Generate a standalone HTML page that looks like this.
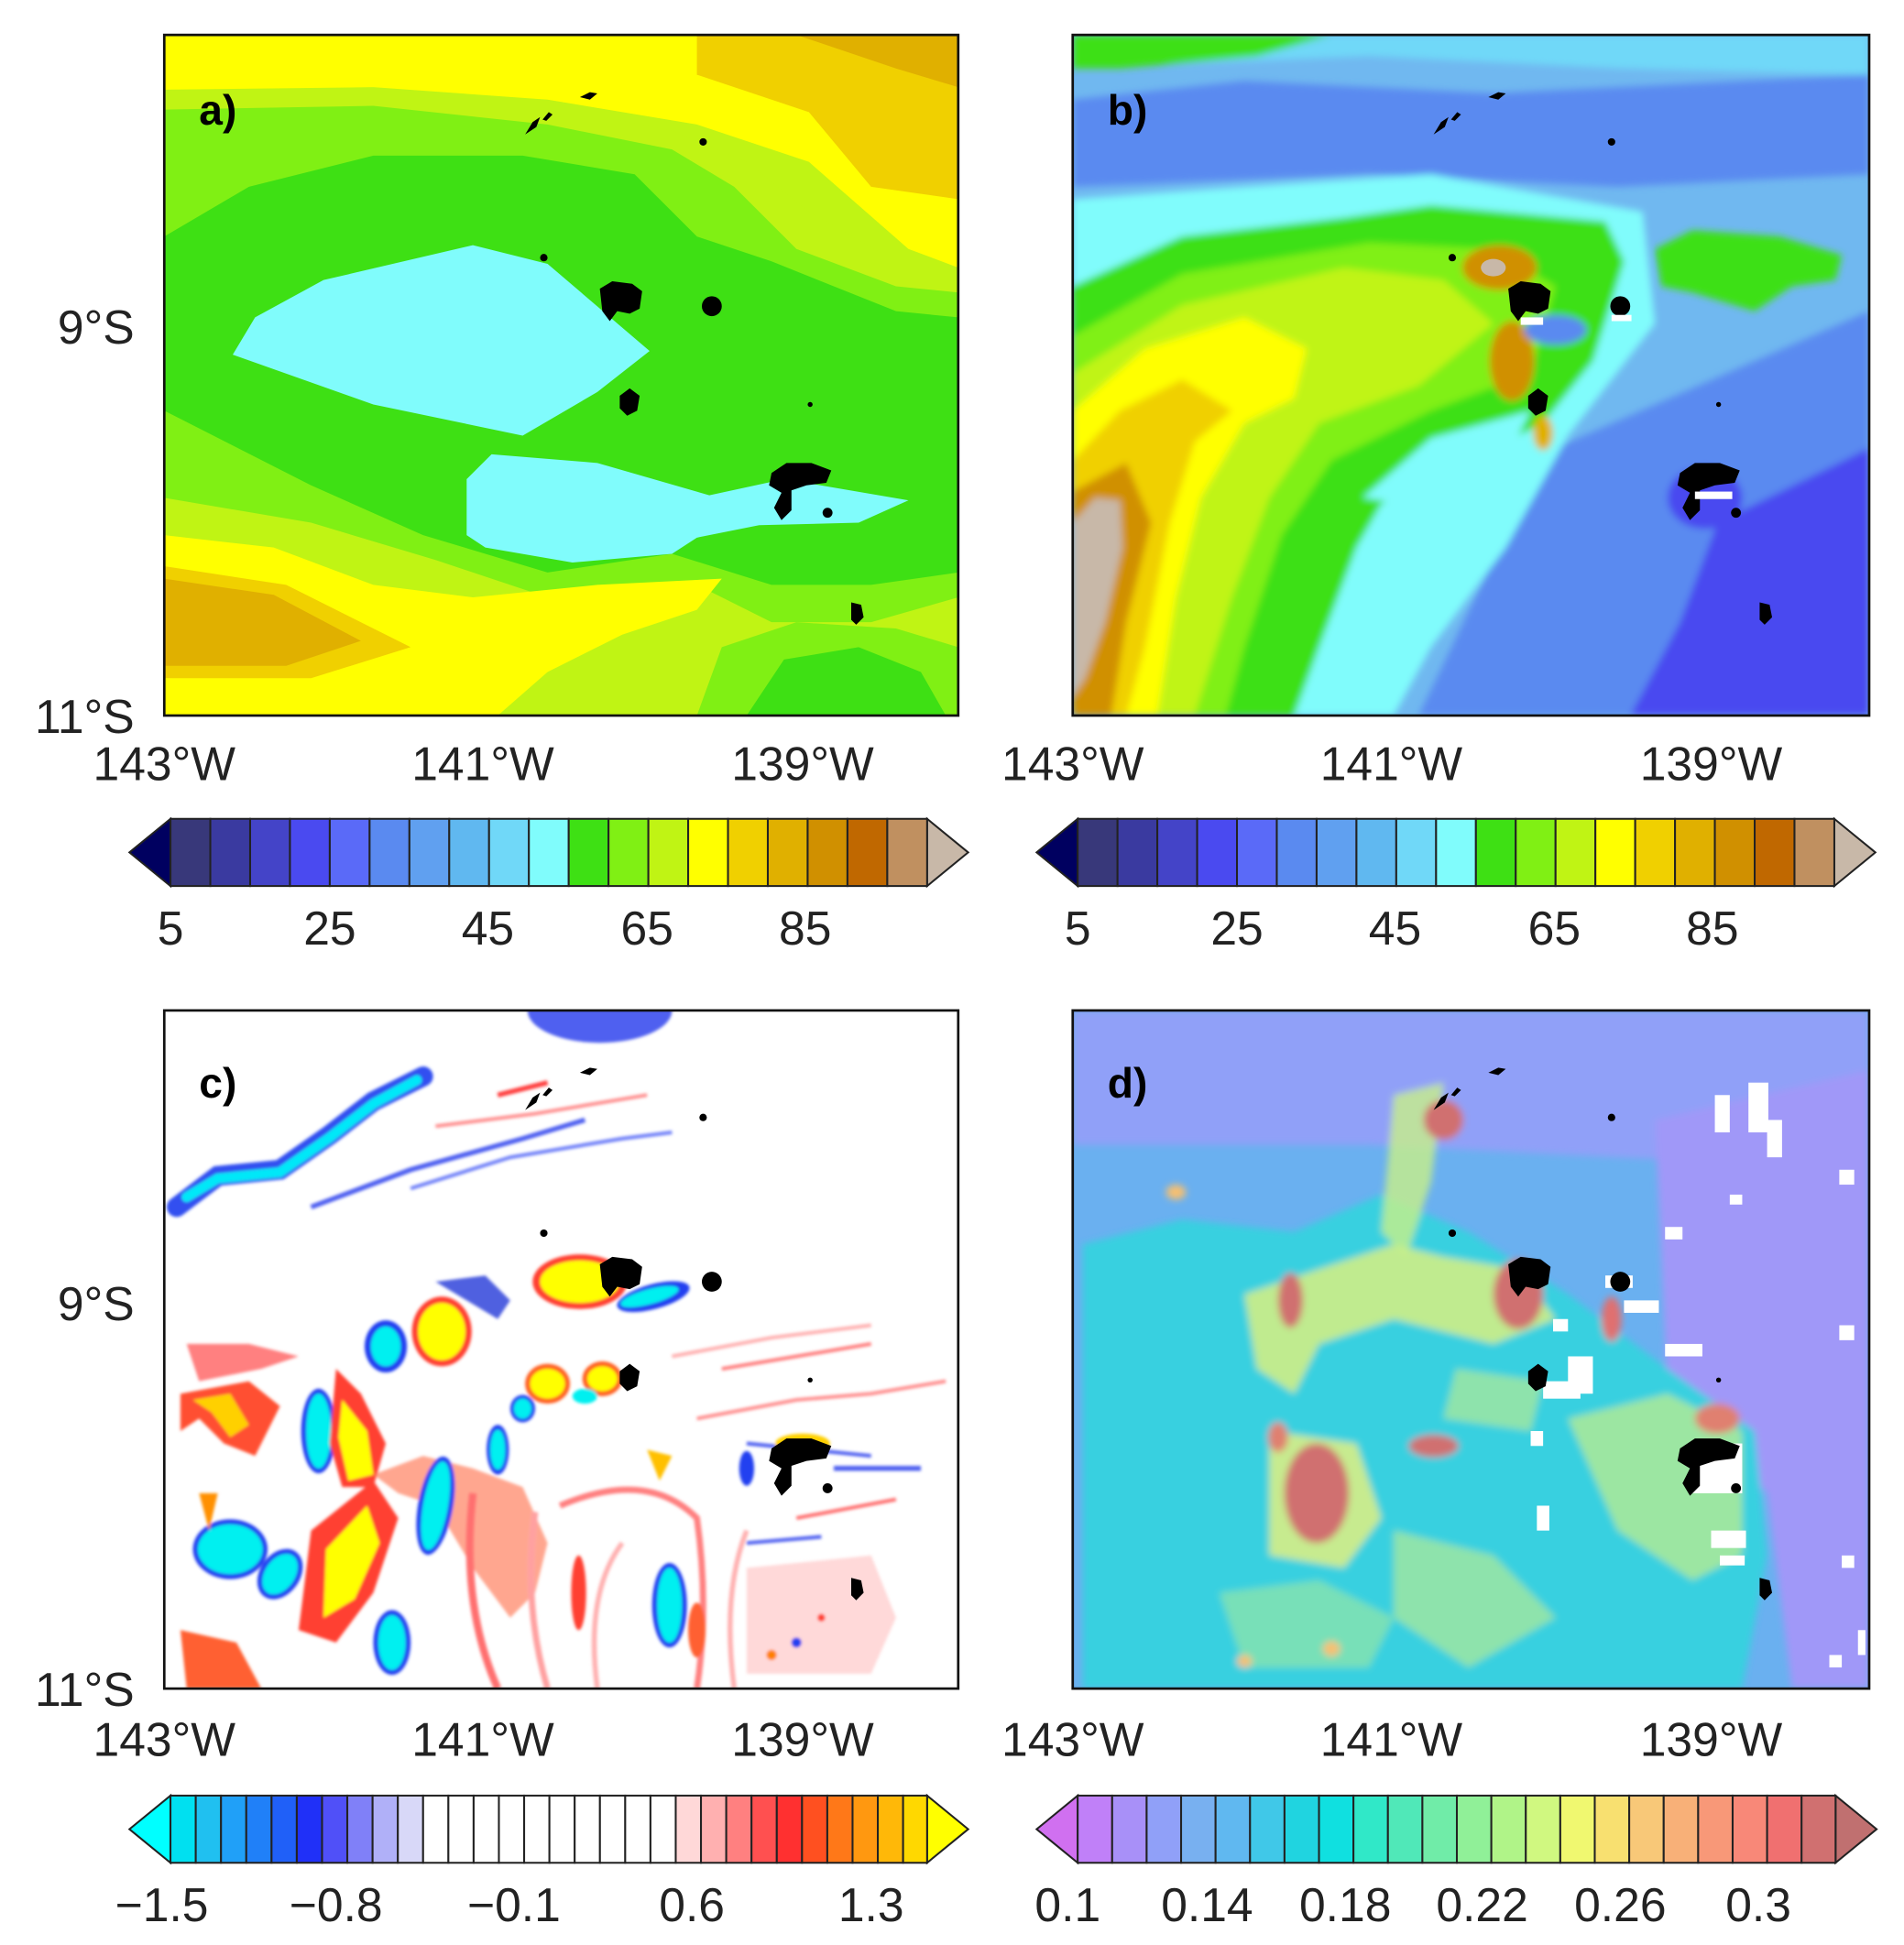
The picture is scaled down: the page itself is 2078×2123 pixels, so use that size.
<!DOCTYPE html>
<html><head><meta charset="utf-8"><style>
html,body{margin:0;padding:0;background:#fff;}
svg{display:block;}
text{font-family:"Liberation Sans",sans-serif;fill:#222;}
</style></head><body>
<svg width="2078" height="2123" viewBox="0 0 1530 1563" xmlns="http://www.w3.org/2000/svg">
<defs>
<filter id="bl" x="-5%" y="-5%" width="110%" height="110%"><feGaussianBlur stdDeviation="3"/></filter>
<filter id="bl2"><feGaussianBlur stdDeviation="1.2"/></filter>
<clipPath id="ca"><rect x="132" y="28" width="638" height="547"/></clipPath>
<clipPath id="cb"><rect x="862" y="28" width="640" height="547"/></clipPath>
<clipPath id="cc"><rect x="132" y="812" width="638" height="545"/></clipPath>
<clipPath id="cd"><rect x="862" y="812" width="640" height="545"/></clipPath>
<g id="isl" fill="#000">
<path d="M422,108 l6,-10 l6,-4 l-3,8 z"/><path d="M436,96 l5,-6 l3,2 l-5,5 z"/><path d="M466,78 l8,-4 l6,1 l-6,5 z"/>
<circle cx="565" cy="114" r="3"/><circle cx="437" cy="207" r="3"/>
<path d="M482,232 l10,-6 l16,2 l8,6 l-2,14 l-8,4 l-10,-2 l-6,8 l-6,-8 z"/>
<circle cx="572" cy="246" r="8"/>
<path d="M498,318 l8,-6 l8,6 l-2,12 l-8,4 l-6,-6 z"/>
<circle cx="651" cy="325" r="2"/>
<path d="M620,380 l12,-8 l20,0 l16,6 l-4,10 l-16,2 l-12,4 l0,16 l-8,8 l-6,-10 l6,-12 l-10,-6 z"/>
<circle cx="665" cy="412" r="4"/>
<path d="M684,484 l8,2 l2,10 l-6,6 l-4,-4 z"/>
</g>
</defs>

<!-- ================= PANEL A ================= -->
<g clip-path="url(#ca)">
<rect x="132" y="28" width="638" height="547" fill="#c0f414"/>
<path d="M132,28 H770 V215 L730,200 L650,130 L560,100 L440,80 L300,70 L132,72 Z" fill="#ffff00"/>
<path d="M560,28 H770 V160 L700,150 L650,90 L560,60 Z" fill="#f0d000"/>
<path d="M640,28 H770 V70 L720,55 Z" fill="#e0b000"/>
<path d="M132,75 L300,72 L440,85 L540,105 L600,130 L650,170 L720,210 L770,220 V575 H132 Z" fill="#c0f414"/>
<path d="M132,88 L300,85 L440,100 L540,120 L590,150 L640,200 L720,230 L770,235 V480 L700,500 L620,500 L560,470 L440,480 L350,450 L250,420 L132,400 Z" fill="#80f014"/>
<path d="M132,190 L200,150 L300,125 L420,125 L510,140 L560,190 L620,210 L720,250 L770,255 V460 L700,470 L620,470 L540,445 L440,460 L340,430 L250,390 L132,330 Z" fill="#3ee014"/>
<path d="M187,285 L205,255 L260,225 L380,197 L440,212 L522,282 L480,315 L420,350 L300,325 Z" fill="#80fcfc"/>
<path d="M375,385 L395,365 L480,372 L570,398 L630,385 L730,402 L690,420 L610,422 L560,432 L540,445 L460,452 L390,440 L375,430 Z" fill="#80fcfc"/>
<path d="M132,430 L220,440 L300,470 L380,480 L480,470 L580,465 L560,490 L500,510 L440,540 L400,575 H132 Z" fill="#ffff00"/>
<path d="M132,455 L230,470 L330,520 L250,545 L132,545 Z" fill="#f0d000"/>
<path d="M132,465 L220,478 L290,515 L230,535 L132,535 Z" fill="#e0b000"/>
<path d="M132,545 L250,548 L330,520 L400,575 H132 Z" fill="#ffff00"/>
<path d="M560,575 L580,520 L640,500 L720,505 L770,520 V575 Z" fill="#80f014"/>
<path d="M600,575 L630,530 L690,520 L740,540 L760,575 Z" fill="#3ee014"/>
<use href="#isl"/>
</g>
<rect x="132" y="28" width="638" height="547" fill="none" stroke="#111" stroke-width="2"/>
<text x="160" y="100" font-size="34" font-weight="bold" style="fill:#000">a)</text>

<!-- ================= PANEL B ================= -->
<g clip-path="url(#cb)">
<rect x="862" y="28" width="640" height="547" fill="#70b8f0"/>
<g filter="url(#bl)">
<path d="M862,28 H1502 V60 L1300,55 L1100,45 L862,55 Z" fill="#70d8f8"/>
<path d="M862,28 H1070 L1010,45 L900,55 L862,55 Z" fill="#3ee014"/>
<path d="M862,80 L1000,65 L1200,75 L1502,60 V140 L1300,150 L1100,140 L862,150 Z" fill="#5a8af0"/>
<path d="M1250,360 L1502,250 V575 H1140 L1200,450 Z" fill="#5a8af0"/>
<path d="M1380,420 L1502,360 V575 H1310 L1350,500 Z" fill="#4a4af0"/>
<path d="M862,160 L1000,150 L1150,140 L1320,170 L1330,260 L1260,350 L1210,440 L1150,520 L1120,575 H862 Z" fill="#80fcfc"/>
<path d="M862,230 L950,190 L1080,175 L1150,165 L1290,178 L1305,210 L1280,290 L1240,340 L1180,370 L1110,405 L1090,440 L1060,520 L1040,575 H862 Z" fill="#3ee014"/>
<path d="M1095,400 L1150,352 L1230,330 L1205,380 L1130,405 Z" fill="#80fcfc"/>
<path d="M862,270 L950,220 L1100,195 L1200,200 L1250,230 L1230,300 L1150,330 L1070,370 L1030,430 L1000,520 L985,575 H862 Z" fill="#80f014"/>
<path d="M862,300 L950,245 L1080,215 L1160,225 L1200,260 L1140,310 L1060,340 L1020,400 L990,480 L960,575 H862 Z" fill="#c0f414"/>
<path d="M862,330 L920,280 L1000,255 L1050,280 L1040,320 L1000,340 L965,400 L945,480 L930,575 H862 Z" fill="#ffff00"/>
<path d="M862,370 L900,330 L950,305 L990,330 L960,355 L940,420 L920,520 L905,575 H862 Z" fill="#f0d000"/>
<path d="M862,395 L905,372 L925,420 L905,500 L893,575 H862 Z" fill="#d09000"/>
<path d="M862,420 L880,400 L900,402 L902,440 L888,500 L872,545 L862,560 Z" fill="#c8b8a8"/>
<path d="M1330,200 L1360,185 L1430,190 L1480,205 L1475,225 L1440,230 L1410,250 L1360,235 L1335,230 Z" fill="#3ee014"/>
<ellipse cx="1205" cy="215" rx="30" ry="18" fill="#d09000"/>
<ellipse cx="1215" cy="290" rx="18" ry="32" fill="#d09000"/>
<ellipse cx="1240" cy="348" rx="8" ry="14" fill="#e0b000"/>
<ellipse cx="1250" cy="265" rx="25" ry="12" fill="#5a8af0"/>
<ellipse cx="1370" cy="400" rx="30" ry="25" fill="#4a4af0"/>
</g>
<ellipse cx="1200" cy="215" rx="10" ry="7" fill="#c8b8a8"/>
<use href="#isl" transform="translate(730,0)"/>
<rect x="1222" y="255" width="18" height="6" fill="#fff"/>
<rect x="1295" y="253" width="16" height="5" fill="#fff"/>
<rect x="1362" y="395" width="30" height="6" fill="#fff"/>
</g>
<rect x="862" y="28" width="640" height="547" fill="none" stroke="#111" stroke-width="2"/>
<text x="890" y="100" font-size="34" font-weight="bold" style="fill:#000">b)</text>

<!-- ================= PANEL C ================= -->
<g clip-path="url(#cc)">
<rect x="132" y="812" width="638" height="545" fill="#fff"/>
<g filter="url(#bl2)">
<ellipse cx="482" cy="812" rx="58" ry="26" fill="#5060f0"/>
<polyline points="142,970 175,945 225,940 265,912 300,885 340,865" fill="none" stroke="#3050f0" stroke-width="16" stroke-linecap="round"/>
<polyline points="150,962 175,947 225,942 265,914 300,887 335,868" fill="none" stroke="#00e8f8" stroke-width="8" stroke-linecap="round"/>
<path d="M250,970 L330,940 L420,915 L470,900" stroke="#5060f0" stroke-width="4" fill="none"/>
<path d="M350,905 L430,895 L520,880" stroke="#ff9090" stroke-width="3" fill="none"/>
<path d="M330,955 L410,930 L500,915 L540,910" stroke="#7080f8" stroke-width="3" fill="none"/>
<path d="M400,880 L440,870" stroke="#ff4040" stroke-width="4"/>
<path d="M350,1030 L390,1025 L410,1045 L400,1060 Z" fill="#5060e0"/>
<ellipse cx="466" cy="1030" rx="38" ry="22" fill="#ff4030"/>
<ellipse cx="466" cy="1030" rx="32" ry="17" fill="#ffff00"/>
<ellipse cx="525" cy="1042" rx="30" ry="10" fill="#2040f0" transform="rotate(-15 525 1042)"/>
<ellipse cx="522" cy="1042" rx="24" ry="6" fill="#00f0f0" transform="rotate(-15 522 1042)"/>
<ellipse cx="355" cy="1070" rx="24" ry="28" fill="#ff4030"/>
<ellipse cx="355" cy="1070" rx="19" ry="23" fill="#ffff00"/>
<ellipse cx="310" cy="1082" rx="17" ry="21" fill="#2040f0"/>
<ellipse cx="310" cy="1082" rx="12" ry="16" fill="#00f0f0"/>
<ellipse cx="440" cy="1112" rx="18" ry="16" fill="#ff6020"/>
<ellipse cx="440" cy="1112" rx="14" ry="12" fill="#ffff00"/>
<ellipse cx="484" cy="1108" rx="16" ry="14" fill="#ff6020"/>
<ellipse cx="484" cy="1108" rx="12" ry="10" fill="#ffff00"/>
<ellipse cx="420" cy="1132" rx="10" ry="11" fill="#2040f0"/><ellipse cx="420" cy="1132" rx="7" ry="8" fill="#00f0f0"/>
<ellipse cx="470" cy="1122" rx="10" ry="6" fill="#00f0f0"/>
<path d="M150,1080 L200,1080 L240,1090 L210,1100 L160,1110 Z" fill="#ff8080"/>
<path d="M145,1120 L200,1110 L225,1130 L205,1170 L180,1160 L160,1140 L145,1150 Z" fill="#ff5030"/>
<path d="M155,1125 L185,1120 L200,1145 L185,1155 L170,1135 Z" fill="#ffd000"/>
<ellipse cx="256" cy="1150" rx="14" ry="34" fill="#2040f0"/><ellipse cx="256" cy="1150" rx="10" ry="30" fill="#00f0f0"/>
<path d="M270,1100 L290,1120 L310,1160 L300,1195 L275,1195 L265,1160 Z" fill="#ff4030"/>
<path d="M275,1125 L295,1150 L300,1185 L280,1190 L272,1155 Z" fill="#ffff00"/>
<path d="M300,1185 L340,1170 L380,1180 L420,1195 L440,1240 L430,1280 L410,1300 L380,1260 L350,1210 L320,1200 Z" fill="#ff8060" opacity="0.7"/>
<ellipse cx="350" cy="1210" rx="14" ry="40" fill="#2040f0" transform="rotate(10 350 1210)"/>
<ellipse cx="350" cy="1210" rx="10" ry="36" fill="#00f0f0" transform="rotate(10 350 1210)"/>
<ellipse cx="400" cy="1165" rx="9" ry="20" fill="#2040f0"/><ellipse cx="400" cy="1165" rx="6" ry="16" fill="#00f0f0"/>
<path d="M250,1230 L300,1190 L320,1220 L300,1280 L270,1320 L240,1310 Z" fill="#ff4030"/>
<path d="M262,1245 L295,1210 L305,1240 L285,1285 L260,1300 Z" fill="#ffff00"/>
<ellipse cx="185" cy="1245" rx="30" ry="24" fill="#2040f0"/><ellipse cx="185" cy="1245" rx="26" ry="20" fill="#00f0f0"/>
<ellipse cx="225" cy="1265" rx="16" ry="22" fill="#2040f0" transform="rotate(35 225 1265)"/><ellipse cx="225" cy="1265" rx="12" ry="18" fill="#00f0f0" transform="rotate(35 225 1265)"/>
<ellipse cx="315" cy="1320" rx="15" ry="26" fill="#2040f0"/><ellipse cx="315" cy="1320" rx="11" ry="22" fill="#00f0f0"/>
<path d="M145,1310 L190,1320 L210,1357 H150 Z" fill="#ff6030"/>
<path d="M160,1200 L175,1200 L168,1230 Z" fill="#ff9000"/>
<path d="M380,1200 Q370,1290 400,1357" stroke="#ff7070" stroke-width="6" fill="none"/>
<path d="M430,1215 Q420,1290 440,1357" stroke="#ffa0a0" stroke-width="5" fill="none"/>
<path d="M450,1210 Q520,1180 560,1220 Q570,1290 560,1357" stroke="#ff8080" stroke-width="5" fill="none"/>
<path d="M480,1357 Q470,1280 500,1240" stroke="#ffb0b0" stroke-width="4" fill="none"/>
<path d="M590,1357 Q580,1280 600,1230" stroke="#ffb0b0" stroke-width="4" fill="none"/>
<ellipse cx="538" cy="1290" rx="14" ry="34" fill="#2040f0"/><ellipse cx="538" cy="1290" rx="10" ry="30" fill="#00f0f0"/>
<ellipse cx="465" cy="1280" rx="6" ry="30" fill="#ff4030"/>
<ellipse cx="560" cy="1310" rx="7" ry="22" fill="#ff6030"/>
<path d="M520,1165 L540,1170 L530,1190 Z" fill="#ffc000"/>
<path d="M560,1140 L640,1125 L700,1120 L760,1110" stroke="#ff9090" stroke-width="3" fill="none"/>
<path d="M580,1100 L640,1090 L700,1080" stroke="#ff8080" stroke-width="3" fill="none"/>
<path d="M540,1090 L620,1075 L700,1065" stroke="#ffb0b0" stroke-width="3" fill="none"/>
<path d="M600,1160 L650,1165 L700,1170" stroke="#5060f0" stroke-width="3" fill="none"/>
<path d="M670,1180 L740,1180" stroke="#5060f0" stroke-width="4"/>
<path d="M640,1220 L720,1205" stroke="#ff7070" stroke-width="3"/>
<path d="M600,1240 L660,1235" stroke="#5060f0" stroke-width="3"/>
<ellipse cx="600" cy="1180" rx="6" ry="14" fill="#2040f0"/>
<path d="M600,1260 L700,1250 L720,1300 L700,1345 L600,1345 Z" fill="#ffc0c0" opacity="0.6"/>
<circle cx="620" cy="1330" r="4" fill="#ff8000"/><circle cx="640" cy="1320" r="4" fill="#2040f0"/><circle cx="660" cy="1300" r="3" fill="#ff4030"/>
<ellipse cx="645" cy="1160" rx="22" ry="8" fill="#ffd000"/>
</g>
<use href="#isl" transform="translate(0,784)"/>
</g>
<rect x="132" y="812" width="638" height="545" fill="none" stroke="#111" stroke-width="2"/>
<text x="160" y="882" font-size="34" font-weight="bold" style="fill:#000">c)</text>

<!-- ================= PANEL D ================= -->
<g clip-path="url(#cd)">
<rect x="862" y="812" width="640" height="545" fill="#6ab0f0"/>
<g filter="url(#bl)">
<path d="M862,812 H1502 V940 L1300,930 L1100,920 L862,920 Z" fill="#90a0f8"/>
<path d="M1330,900 L1502,860 V1357 H1440 L1420,1200 L1340,1120 Z" fill="#a098f8"/>
<path d="M1240,1120 L1320,1100 L1340,1200 L1260,1200 Z" fill="#a898f8"/>
<path d="M870,1000 L950,980 L1040,990 L1110,960 L1180,990 L1260,1040 L1340,1100 L1410,1150 L1420,1250 L1400,1357 H870 Z" fill="#38d0e0"/>
<path d="M1000,1040 L1060,1020 L1120,1000 L1160,1010 L1220,1020 L1250,1060 L1200,1080 L1120,1060 L1060,1080 L1040,1120 L1010,1100 Z" fill="#d8f080" opacity="0.85"/>
<path d="M1120,880 L1160,870 L1150,950 L1130,1010 L1110,990 Z" fill="#c8f088" opacity="0.8"/>
<path d="M1260,1140 L1340,1120 L1400,1150 L1400,1250 L1360,1270 L1300,1230 Z" fill="#c8f088" opacity="0.7"/>
<path d="M1020,1150 L1090,1160 L1110,1220 L1080,1260 L1020,1250 Z" fill="#e0f080" opacity="0.85"/>
<path d="M1120,1230 L1200,1250 L1250,1300 L1180,1340 L1120,1300 Z" fill="#c8f088" opacity="0.6"/>
<path d="M980,1280 L1060,1270 L1120,1300 L1100,1340 L1000,1340 Z" fill="#b8f090" opacity="0.5"/>
<path d="M1170,1100 L1240,1110 L1230,1150 L1160,1140 Z" fill="#c8f088" opacity="0.6"/>
<ellipse cx="1058" cy="1200" rx="26" ry="40" fill="#d07070"/>
<ellipse cx="1037" cy="1045" rx="10" ry="22" fill="#d07070"/>
<ellipse cx="1152" cy="1162" rx="20" ry="9" fill="#d07070"/>
<ellipse cx="1220" cy="1040" rx="20" ry="28" fill="#d07070"/>
<ellipse cx="1160" cy="900" rx="16" ry="16" fill="#d07070"/>
<ellipse cx="1295" cy="1060" rx="8" ry="18" fill="#e07070"/>
<ellipse cx="1027" cy="1155" rx="8" ry="12" fill="#e08070"/>
<ellipse cx="1380" cy="1140" rx="18" ry="12" fill="#e08070"/>
<ellipse cx="945" cy="958" rx="8" ry="6" fill="#f8c070"/>
<ellipse cx="1070" cy="1325" rx="7" ry="6" fill="#f8c070"/>
<ellipse cx="1000" cy="1335" rx="6" ry="5" fill="#f8c070"/>
</g>
<g fill="#fff">
<rect x="1378" y="880" width="12" height="30"/><rect x="1405" y="870" width="16" height="40"/><rect x="1420" y="900" width="12" height="30"/>
<rect x="1478" y="940" width="12" height="12"/><rect x="1390" y="960" width="10" height="8"/><rect x="1338" y="986" width="14" height="10"/>
<rect x="1290" y="1025" width="22" height="10"/><rect x="1305" y="1045" width="28" height="10"/>
<rect x="1260" y="1090" width="20" height="30"/><rect x="1240" y="1110" width="30" height="14"/><rect x="1248" y="1060" width="12" height="10"/>
<rect x="1338" y="1080" width="30" height="10"/><rect x="1478" y="1065" width="12" height="12"/>
<rect x="1230" y="1150" width="10" height="12"/><rect x="1235" y="1210" width="10" height="20"/>
<rect x="1360" y="1160" width="40" height="40"/><rect x="1375" y="1230" width="28" height="14"/><rect x="1382" y="1250" width="20" height="8"/>
<rect x="1480" y="1250" width="10" height="10"/><rect x="1470" y="1330" width="10" height="10"/><rect x="1493" y="1310" width="6" height="20"/>
</g>
<use href="#isl" transform="translate(730,784)"/>
</g>
<rect x="862" y="812" width="640" height="545" fill="none" stroke="#111" stroke-width="2"/>
<text x="890" y="882" font-size="34" font-weight="bold" style="fill:#000">d)</text>

<!-- ================= AXIS LABELS ================= -->
<g font-size="38">
<text x="108" y="276" text-anchor="end">9°S</text>
<text x="108" y="589" text-anchor="end">11°S</text>
<text x="108" y="1061" text-anchor="end">9°S</text>
<text x="108" y="1371" text-anchor="end">11°S</text>
<text x="132" y="627" text-anchor="middle">143°W</text>
<text x="388" y="627" text-anchor="middle">141°W</text>
<text x="645" y="627" text-anchor="middle">139°W</text>
<text x="862" y="627" text-anchor="middle">143°W</text>
<text x="1118" y="627" text-anchor="middle">141°W</text>
<text x="1375" y="627" text-anchor="middle">139°W</text>
<text x="132" y="1411" text-anchor="middle">143°W</text>
<text x="388" y="1411" text-anchor="middle">141°W</text>
<text x="645" y="1411" text-anchor="middle">139°W</text>
<text x="862" y="1411" text-anchor="middle">143°W</text>
<text x="1118" y="1411" text-anchor="middle">141°W</text>
<text x="1375" y="1411" text-anchor="middle">139°W</text>
</g>

<!-- ================= COLORBARS ================= -->
<g id="cbA" stroke="#222" stroke-width="1.5">
<polygon points="137,658 104,685 137,712" fill="#000060"/>
<polygon points="745,658 778,685 745,712" fill="#c8b8a8"/>
<rect x="137" y="658" width="32" height="54" fill="#38387a"/><rect x="169" y="658" width="32" height="54" fill="#3a3aa0"/><rect x="201" y="658" width="32" height="54" fill="#4444c8"/><rect x="233" y="658" width="32" height="54" fill="#4a4af0"/><rect x="265" y="658" width="32" height="54" fill="#5a6af8"/><rect x="297" y="658" width="32" height="54" fill="#5a8af0"/><rect x="329" y="658" width="32" height="54" fill="#60a0f0"/><rect x="361" y="658" width="32" height="54" fill="#60b8f0"/><rect x="393" y="658" width="32" height="54" fill="#70d8f8"/><rect x="425" y="658" width="32" height="54" fill="#80fcfc"/><rect x="457" y="658" width="32" height="54" fill="#3ee014"/><rect x="489" y="658" width="32" height="54" fill="#80f014"/><rect x="521" y="658" width="32" height="54" fill="#c0f414"/><rect x="553" y="658" width="32" height="54" fill="#ffff00"/><rect x="585" y="658" width="32" height="54" fill="#f0d000"/><rect x="617" y="658" width="32" height="54" fill="#e0b000"/><rect x="649" y="658" width="32" height="54" fill="#d09000"/><rect x="681" y="658" width="32" height="54" fill="#c06800"/><rect x="713" y="658" width="32" height="54" fill="#c09060"/>
</g>
<use href="#cbA" transform="translate(729,0)"/>
<g font-size="38" text-anchor="middle">
<text x="137" y="759">5</text><text x="265" y="759">25</text><text x="392" y="759">45</text><text x="520" y="759">65</text><text x="647" y="759">85</text>
<text x="866" y="759">5</text><text x="994" y="759">25</text><text x="1121" y="759">45</text><text x="1249" y="759">65</text><text x="1376" y="759">85</text>
</g>

<g stroke="#222" stroke-width="1.5">
<polygon points="137,1443 104,1470 137,1497" fill="#00ffff"/>
<polygon points="745,1443 778,1470 745,1497" fill="#ffff00"/>
<rect x="137.0" y="1443" width="20.3" height="54" fill="#00e0f0"/><rect x="157.3" y="1443" width="20.3" height="54" fill="#20c0f0"/><rect x="177.6" y="1443" width="20.3" height="54" fill="#20a0f8"/><rect x="197.9" y="1443" width="20.3" height="54" fill="#2080f8"/><rect x="218.2" y="1443" width="20.3" height="54" fill="#2060f8"/><rect x="238.5" y="1443" width="20.3" height="54" fill="#2030f8"/><rect x="258.8" y="1443" width="20.3" height="54" fill="#5050f8"/><rect x="279.1" y="1443" width="20.3" height="54" fill="#8080f8"/><rect x="299.4" y="1443" width="20.3" height="54" fill="#b0b0f8"/><rect x="319.7" y="1443" width="20.3" height="54" fill="#d8d8f8"/>
<rect x="340.0" y="1443" width="20.3" height="54" fill="#fff"/><rect x="360.3" y="1443" width="20.3" height="54" fill="#fff"/><rect x="380.6" y="1443" width="20.3" height="54" fill="#fff"/><rect x="400.9" y="1443" width="20.3" height="54" fill="#fff"/><rect x="421.2" y="1443" width="20.3" height="54" fill="#fff"/><rect x="441.5" y="1443" width="20.3" height="54" fill="#fff"/><rect x="461.8" y="1443" width="20.3" height="54" fill="#fff"/><rect x="482.1" y="1443" width="20.3" height="54" fill="#fff"/><rect x="502.4" y="1443" width="20.3" height="54" fill="#fff"/><rect x="522.7" y="1443" width="20.3" height="54" fill="#fff"/>
<rect x="543.0" y="1443" width="20.3" height="54" fill="#ffd8d8"/><rect x="563.3" y="1443" width="20.3" height="54" fill="#ffb0b0"/><rect x="583.6" y="1443" width="20.3" height="54" fill="#ff8080"/><rect x="603.9" y="1443" width="20.3" height="54" fill="#ff5050"/><rect x="624.2" y="1443" width="20.3" height="54" fill="#ff3030"/><rect x="644.5" y="1443" width="20.3" height="54" fill="#ff5020"/><rect x="664.8" y="1443" width="20.3" height="54" fill="#ff7818"/><rect x="685.1" y="1443" width="20.3" height="54" fill="#ff9810"/><rect x="705.4" y="1443" width="20.3" height="54" fill="#ffb808"/><rect x="725.7" y="1443" width="19.3" height="54" fill="#ffd800"/>
</g>
<g font-size="38" text-anchor="middle">
<text x="130" y="1544">−1.5</text><text x="270" y="1544">−0.8</text><text x="413" y="1544">−0.1</text><text x="556" y="1544">0.6</text><text x="700" y="1544">1.3</text>
</g>

<g stroke="#222" stroke-width="1.5">
<polygon points="866,1443 833,1470 866,1497" fill="#d070f0"/>
<polygon points="1475,1443 1508,1470 1475,1497" fill="#c07070"/>
<rect x="866.0" y="1443" width="27.7" height="54" fill="#c080f8"/><rect x="893.7" y="1443" width="27.7" height="54" fill="#a890f8"/><rect x="921.4" y="1443" width="27.7" height="54" fill="#90a0f8"/><rect x="949.1" y="1443" width="27.7" height="54" fill="#78b0f0"/><rect x="976.8" y="1443" width="27.7" height="54" fill="#60b8f0"/><rect x="1004.5" y="1443" width="27.7" height="54" fill="#40c8e8"/><rect x="1032.2" y="1443" width="27.7" height="54" fill="#20d4e0"/><rect x="1059.9" y="1443" width="27.7" height="54" fill="#10e0e0"/><rect x="1087.6" y="1443" width="27.7" height="54" fill="#30e8c8"/><rect x="1115.3" y="1443" width="27.7" height="54" fill="#50e8b8"/><rect x="1143.0" y="1443" width="27.7" height="54" fill="#70eca8"/><rect x="1170.7" y="1443" width="27.7" height="54" fill="#90f098"/><rect x="1198.4" y="1443" width="27.7" height="54" fill="#b0f488"/><rect x="1226.1" y="1443" width="27.7" height="54" fill="#d0f880"/><rect x="1253.8" y="1443" width="27.7" height="54" fill="#f0f870"/><rect x="1281.5" y="1443" width="27.7" height="54" fill="#f8e070"/><rect x="1309.2" y="1443" width="27.7" height="54" fill="#f8c878"/><rect x="1336.9" y="1443" width="27.7" height="54" fill="#f8b078"/><rect x="1364.6" y="1443" width="27.7" height="54" fill="#f89878"/><rect x="1392.3" y="1443" width="27.7" height="54" fill="#f88878"/><rect x="1420.0" y="1443" width="27.7" height="54" fill="#f07070"/><rect x="1447.7" y="1443" width="27.3" height="54" fill="#d07070"/>
</g>
<g font-size="38" text-anchor="middle">
<text x="858" y="1544">0.1</text><text x="970" y="1544">0.14</text><text x="1081" y="1544">0.18</text><text x="1191" y="1544">0.22</text><text x="1302" y="1544">0.26</text><text x="1413" y="1544">0.3</text>
</g>
</svg>
</body></html>
